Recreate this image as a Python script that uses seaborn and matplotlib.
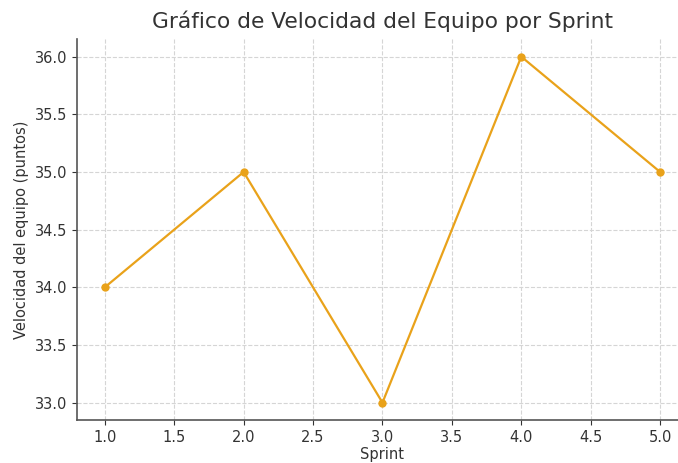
import numpy as np
import pandas as pd
import seaborn as sns
import matplotlib.pyplot as plt

sprints = [1, 2, 3, 4, 5]
velocidad = [34, 35, 33, 36, 35]

df = pd.DataFrame({"Sprint": sprints, "Velocidad": velocidad})

sns.set_style("ticks")
plt.rcParams['font.family'] = ['DejaVu Sans']
plt.rcParams['text.color'] = '#333333'
plt.rcParams['axes.labelcolor'] = '#333333'
plt.rcParams['xtick.color'] = '#333333'
plt.rcParams['ytick.color'] = '#333333'

fig = plt.figure(figsize=(6.78, 4.63), dpi=100)
# the original was cropped on the right, so the axes run slightly past the edge
ax = fig.add_axes([0.1136, 0.093, 0.901, 0.822])

sns.lineplot(data=df, x="Sprint", y="Velocidad", marker="o", color="#E9A21A",
             linewidth=1.6, markersize=6, markeredgewidth=0, ax=ax)

ax.set_title("Gráfico de Velocidad del Equipo por Sprint", fontsize=15.7, pad=8)
ax.set_xlabel("Sprint", fontsize=10.5, labelpad=2)
ax.set_ylabel("Velocidad del equipo (puntos)", fontsize=10.5)
ax.set_xlim(0.8, 5.2)
ax.set_ylim(32.85, 36.15)
ax.set_xticks(np.arange(1.0, 5.01, 0.5))
ax.set_yticks(np.arange(33.0, 36.01, 0.5))
ax.tick_params(labelsize=10.5)
ax.grid(True, linestyle='--', color='#d5d5d5', linewidth=0.8)
for s in ['left', 'bottom']:
    ax.spines[s].set_color('#555555')
    ax.spines[s].set_linewidth(1.2)
sns.despine(ax=ax)

fig.savefig("out.png", dpi=100)
